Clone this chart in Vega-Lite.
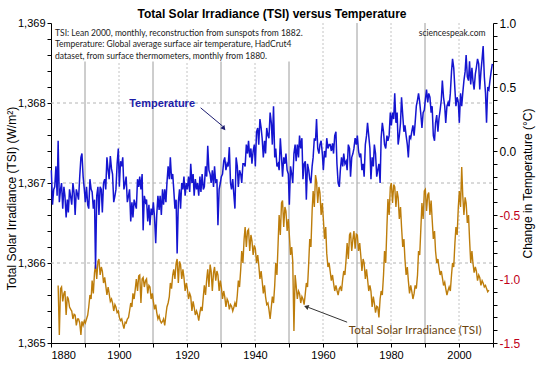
{
"$schema":"https://vega.github.io/schema/vega-lite/v6.json",
"width":442,"height":320,
"autosize":{"type":"none"},
"padding":{"left":51,"top":23,"right":47,"bottom":32},
"background":"white",
"config":{"view":{"stroke":null},"font":"Liberation Sans",
"axis":{"labelFont":"Liberation Sans","labelFontSize":11,"labelColor":"black","titleFont":"Liberation Sans","titleFontSize":12,"titleFontWeight":"normal","titleColor":"black","domainColor":"black","tickColor":"black","tickSize":4,"grid":false,"labelOverlap":false}},
"title":{"text":"Total Solar Irradiance (TSI) versus Temperature","font":"Liberation Sans Narrow, Liberation Sans","fontSize":12,"fontWeight":"bold","anchor":"middle","offset":-4,"color":"black"},
"datasets":{"series":[
{"year":1880.1,"temp":-0.15},{"year":1880.45,"temp":-0.42},{"year":1880.8,"temp":-0.30},
{"year":1881.1,"temp":-0.28},{"year":1881.45,"temp":-0.12},{"year":1881.8,"temp":-0.35},
{"year":1882.1,"temp":0.08,"tsi":1365.72},{"year":1882.45,"temp":-0.40,"tsi":1365.10},{"year":1882.8,"temp":-0.30,"tsi":1365.68},
{"year":1883.1,"temp":-0.25,"tsi":1365.70},{"year":1883.45,"temp":-0.45,"tsi":1365.52},{"year":1883.8,"temp":-0.28,"tsi":1365.62},
{"year":1884.1,"temp":-0.35,"tsi":1365.65},{"year":1884.45,"temp":-0.52,"tsi":1365.35},{"year":1884.8,"temp":-0.38,"tsi":1365.58},
{"year":1885.1,"temp":-0.48,"tsi":1365.55},{"year":1885.45,"temp":-0.30,"tsi":1365.45},{"year":1885.8,"temp":-0.36,"tsi":1365.42},
{"year":1886.1,"temp":-0.42,"tsi":1365.40},{"year":1886.45,"temp":-0.25,"tsi":1365.30},{"year":1886.8,"temp":-0.33,"tsi":1365.36},
{"year":1887.1,"temp":-0.50,"tsi":1365.35},{"year":1887.45,"temp":-0.30,"tsi":1365.22},{"year":1887.8,"temp":-0.34,"tsi":1365.30},
{"year":1888.1,"temp":-0.38,"tsi":1365.30},{"year":1888.45,"temp":-0.20,"tsi":1365.25},{"year":1888.8,"temp":-0.05,"tsi":1365.10},
{"year":1889.1,"temp":-0.02,"tsi":1365.27},{"year":1889.45,"temp":-0.20,"tsi":1365.22},{"year":1889.8,"temp":-0.30,"tsi":1365.28},
{"year":1890.1,"temp":-0.40,"tsi":1365.25},{"year":1890.45,"temp":-0.28,"tsi":1365.30},{"year":1890.8,"temp":-0.42,"tsi":1365.35},
{"year":1891.1,"temp":-0.45,"tsi":1365.45},{"year":1891.45,"temp":-0.22,"tsi":1365.60},{"year":1891.8,"temp":-0.30,"tsi":1365.55},
{"year":1892.1,"temp":-0.32,"tsi":1365.78},{"year":1892.45,"temp":-0.45,"tsi":1365.62},{"year":1892.8,"temp":-0.38,"tsi":1365.88},
{"year":1893.1,"temp":-0.92,"tsi":1365.98},{"year":1893.45,"temp":-0.35,"tsi":1365.80},{"year":1893.8,"temp":-0.28,"tsi":1366.02},
{"year":1894.1,"temp":-0.50,"tsi":1366.05},{"year":1894.45,"temp":-0.28,"tsi":1365.85},{"year":1894.8,"temp":-0.30,"tsi":1365.95},
{"year":1895.1,"temp":-0.48,"tsi":1365.90},{"year":1895.45,"temp":-0.25,"tsi":1365.75},{"year":1895.8,"temp":-0.22,"tsi":1365.82},
{"year":1896.1,"temp":-0.30,"tsi":1365.72},{"year":1896.45,"temp":-0.05,"tsi":1365.60},{"year":1896.8,"temp":-0.15,"tsi":1365.70},
{"year":1897.1,"temp":-0.22,"tsi":1365.62},{"year":1897.45,"temp":-0.04,"tsi":1365.52},{"year":1897.8,"temp":-0.14,"tsi":1365.55},
{"year":1898.1,"temp":-0.18,"tsi":1365.50},{"year":1898.45,"temp":-0.40,"tsi":1365.40},{"year":1898.8,"temp":-0.35,"tsi":1365.48},
{"year":1899.1,"temp":-0.30,"tsi":1365.45},{"year":1899.45,"temp":-0.10,"tsi":1365.38},{"year":1899.8,"temp":0.02,"tsi":1365.40},
{"year":1900.1,"temp":-0.28,"tsi":1365.32},{"year":1900.45,"temp":-0.08,"tsi":1365.28},{"year":1900.8,"temp":-0.12,"tsi":1365.30},
{"year":1901.1,"temp":-0.05,"tsi":1365.24},{"year":1901.45,"temp":-0.30,"tsi":1365.18},{"year":1901.8,"temp":-0.25,"tsi":1365.26},
{"year":1902.1,"temp":-0.20,"tsi":1365.25},{"year":1902.45,"temp":-0.40,"tsi":1365.30},{"year":1902.8,"temp":-0.35,"tsi":1365.32},
{"year":1903.1,"temp":-0.30,"tsi":1365.40},{"year":1903.45,"temp":-0.55,"tsi":1365.50},{"year":1903.8,"temp":-0.40,"tsi":1365.45},
{"year":1904.1,"temp":-0.52,"tsi":1365.62},{"year":1904.45,"temp":-0.38,"tsi":1365.55},{"year":1904.8,"temp":-0.42,"tsi":1365.68},
{"year":1905.1,"temp":-0.45,"tsi":1365.80},{"year":1905.45,"temp":-0.22,"tsi":1365.65},{"year":1905.8,"temp":-0.28,"tsi":1365.84},
{"year":1906.1,"temp":-0.20,"tsi":1365.85},{"year":1906.45,"temp":-0.30,"tsi":1365.50},{"year":1906.8,"temp":-0.18,"tsi":1365.80},
{"year":1907.1,"temp":-0.62,"tsi":1365.82},{"year":1907.45,"temp":-0.35,"tsi":1365.70},{"year":1907.8,"temp":-0.40,"tsi":1365.78},
{"year":1908.1,"temp":-0.38,"tsi":1365.80},{"year":1908.45,"temp":-0.55,"tsi":1365.62},{"year":1908.8,"temp":-0.42,"tsi":1365.72},
{"year":1909.1,"temp":-0.58,"tsi":1365.70},{"year":1909.45,"temp":-0.45,"tsi":1365.55},{"year":1909.8,"temp":-0.50,"tsi":1365.62},
{"year":1910.1,"temp":-0.40,"tsi":1365.52},{"year":1910.45,"temp":-0.52,"tsi":1365.42},{"year":1910.8,"temp":-0.72,"tsi":1365.48},
{"year":1911.1,"temp":-0.50,"tsi":1365.38},{"year":1911.45,"temp":-0.35,"tsi":1365.30},{"year":1911.8,"temp":-0.46,"tsi":1365.34},
{"year":1912.1,"temp":-0.35,"tsi":1365.28},{"year":1912.45,"temp":-0.50,"tsi":1365.25},{"year":1912.8,"temp":-0.30,"tsi":1365.27},
{"year":1913.1,"temp":-0.42,"tsi":1365.30},{"year":1913.45,"temp":-0.30,"tsi":1365.22},{"year":1913.8,"temp":-0.40,"tsi":1365.35},
{"year":1914.1,"temp":-0.25,"tsi":1365.45},{"year":1914.45,"temp":-0.12,"tsi":1365.50},{"year":1914.8,"temp":-0.22,"tsi":1365.58},
{"year":1915.1,"temp":-0.05,"tsi":1365.75},{"year":1915.45,"temp":-0.22,"tsi":1365.68},{"year":1915.8,"temp":-0.18,"tsi":1365.85},
{"year":1916.1,"temp":-0.30,"tsi":1365.92},{"year":1916.45,"temp":-0.45,"tsi":1365.80},{"year":1916.8,"temp":-0.38,"tsi":1366.00},
{"year":1917.1,"temp":-0.80,"tsi":1366.05},{"year":1917.45,"temp":-0.40,"tsi":1365.75},{"year":1917.8,"temp":-0.30,"tsi":1366.02},
{"year":1918.1,"temp":-0.45,"tsi":1365.98},{"year":1918.45,"temp":-0.25,"tsi":1365.80},{"year":1918.8,"temp":-0.30,"tsi":1365.92},
{"year":1919.1,"temp":-0.20,"tsi":1365.82},{"year":1919.45,"temp":-0.35,"tsi":1365.65},{"year":1919.8,"temp":-0.25,"tsi":1365.75},
{"year":1920.1,"temp":-0.30,"tsi":1365.68},{"year":1920.45,"temp":-0.20,"tsi":1365.55},{"year":1920.8,"temp":-0.32,"tsi":1365.62},
{"year":1921.1,"temp":-0.10,"tsi":1365.58},{"year":1921.45,"temp":-0.25,"tsi":1365.40},{"year":1921.8,"temp":-0.18,"tsi":1365.52},
{"year":1922.1,"temp":-0.35,"tsi":1365.45},{"year":1922.45,"temp":-0.22,"tsi":1365.35},{"year":1922.8,"temp":-0.30,"tsi":1365.40},
{"year":1923.1,"temp":-0.25,"tsi":1365.36},{"year":1923.45,"temp":-0.35,"tsi":1365.28},{"year":1923.8,"temp":-0.20,"tsi":1365.38},
{"year":1924.1,"temp":-0.32,"tsi":1365.45},{"year":1924.45,"temp":-0.18,"tsi":1365.40},{"year":1924.8,"temp":-0.30,"tsi":1365.58},
{"year":1925.1,"temp":-0.28,"tsi":1365.72},{"year":1925.45,"temp":-0.12,"tsi":1365.60},{"year":1925.8,"temp":-0.20,"tsi":1365.80},
{"year":1926.1,"temp":0.04,"tsi":1365.92},{"year":1926.45,"temp":-0.15,"tsi":1365.70},{"year":1926.8,"temp":-0.18,"tsi":1365.98},
{"year":1927.1,"temp":-0.25,"tsi":1365.90},{"year":1927.45,"temp":-0.15,"tsi":1365.65},{"year":1927.8,"temp":-0.28,"tsi":1365.88},
{"year":1928.1,"temp":-0.12,"tsi":1365.95},{"year":1928.45,"temp":-0.25,"tsi":1365.78},{"year":1928.8,"temp":-0.22,"tsi":1365.90},
{"year":1929.1,"temp":-0.58,"tsi":1365.85},{"year":1929.45,"temp":-0.30,"tsi":1365.65},{"year":1929.8,"temp":-0.25,"tsi":1365.78},
{"year":1930.1,"temp":-0.20,"tsi":1365.70},{"year":1930.45,"temp":-0.18,"tsi":1365.55},{"year":1930.8,"temp":-0.08,"tsi":1365.65},
{"year":1931.1,"temp":-0.05,"tsi":1365.58},{"year":1931.45,"temp":-0.15,"tsi":1365.45},{"year":1931.8,"temp":-0.10,"tsi":1365.55},
{"year":1932.1,"temp":-0.12,"tsi":1365.52},{"year":1932.45,"temp":0.03,"tsi":1365.42},{"year":1932.8,"temp":-0.25,"tsi":1365.48},
{"year":1933.1,"temp":-0.30,"tsi":1365.46},{"year":1933.45,"temp":-0.22,"tsi":1365.40},{"year":1933.8,"temp":-0.35,"tsi":1365.45},
{"year":1934.1,"temp":-0.45,"tsi":1365.50},{"year":1934.45,"temp":-0.05,"tsi":1365.45},{"year":1934.8,"temp":-0.12,"tsi":1365.60},
{"year":1935.1,"temp":-0.28,"tsi":1365.78},{"year":1935.45,"temp":-0.15,"tsi":1365.70},{"year":1935.8,"temp":-0.18,"tsi":1365.92},
{"year":1936.1,"temp":-0.25,"tsi":1366.15},{"year":1936.45,"temp":-0.10,"tsi":1366.00},{"year":1936.8,"temp":-0.10,"tsi":1366.30},
{"year":1937.1,"temp":-0.12,"tsi":1366.45},{"year":1937.45,"temp":0.05,"tsi":1366.20},{"year":1937.8,"temp":-0.02,"tsi":1366.40},
{"year":1938.1,"temp":0.08,"tsi":1366.42},{"year":1938.45,"temp":-0.05,"tsi":1366.15},{"year":1938.8,"temp":0.02,"tsi":1366.35},
{"year":1939.1,"temp":-0.10,"tsi":1366.28},{"year":1939.45,"temp":0.00,"tsi":1366.10},{"year":1939.8,"temp":0.05,"tsi":1366.22},
{"year":1940.1,"temp":-0.12,"tsi":1366.18},{"year":1940.45,"temp":0.15,"tsi":1366.00},{"year":1940.8,"temp":0.18,"tsi":1366.10},
{"year":1941.1,"temp":0.05,"tsi":1365.98},{"year":1941.45,"temp":0.25,"tsi":1365.80},{"year":1941.8,"temp":0.18,"tsi":1365.90},
{"year":1942.1,"temp":0.10,"tsi":1365.78},{"year":1942.45,"temp":-0.05,"tsi":1365.62},{"year":1942.8,"temp":0.08,"tsi":1365.72},
{"year":1943.1,"temp":-0.02,"tsi":1365.58},{"year":1943.45,"temp":0.18,"tsi":1365.48},{"year":1943.8,"temp":0.12,"tsi":1365.50},
{"year":1944.1,"temp":0.10,"tsi":1365.42},{"year":1944.45,"temp":0.30,"tsi":1365.30},{"year":1944.8,"temp":0.22,"tsi":1365.45},
{"year":1945.1,"temp":0.05,"tsi":1365.58},{"year":1945.45,"temp":0.35,"tsi":1365.50},{"year":1945.8,"temp":-0.05,"tsi":1365.72},
{"year":1946.1,"temp":0.02,"tsi":1366.00},{"year":1946.45,"temp":-0.12,"tsi":1365.85},{"year":1946.8,"temp":-0.10,"tsi":1366.25},
{"year":1947.1,"temp":-0.15,"tsi":1366.60},{"year":1947.45,"temp":0.10,"tsi":1366.35},{"year":1947.8,"temp":-0.05,"tsi":1366.75},
{"year":1948.1,"temp":-0.20,"tsi":1366.78},{"year":1948.45,"temp":-0.05,"tsi":1366.45},{"year":1948.8,"temp":-0.10,"tsi":1366.70},
{"year":1949.1,"temp":-0.02,"tsi":1366.65},{"year":1949.45,"temp":-0.15,"tsi":1366.40},{"year":1949.8,"temp":-0.18,"tsi":1366.55},
{"year":1950.1,"temp":-0.42,"tsi":1366.35},{"year":1950.45,"temp":-0.12,"tsi":1366.10},{"year":1950.8,"temp":-0.18,"tsi":1366.20},
{"year":1951.1,"temp":-0.25,"tsi":1366.02},{"year":1951.45,"temp":-0.02,"tsi":1365.15},{"year":1951.8,"temp":0.05,"tsi":1365.85},
{"year":1952.1,"temp":-0.08,"tsi":1365.72},{"year":1952.45,"temp":0.05,"tsi":1365.55},{"year":1952.8,"temp":-0.05,"tsi":1365.65},
{"year":1953.1,"temp":0.12,"tsi":1365.62},{"year":1953.45,"temp":0.02,"tsi":1365.50},{"year":1953.8,"temp":0.10,"tsi":1365.58},
{"year":1954.1,"temp":-0.22,"tsi":1365.55},{"year":1954.45,"temp":-0.10,"tsi":1365.48},{"year":1954.8,"temp":-0.08,"tsi":1365.62},
{"year":1955.1,"temp":-0.38,"tsi":1365.75},{"year":1955.45,"temp":-0.10,"tsi":1365.70},{"year":1955.8,"temp":-0.15,"tsi":1366.00},
{"year":1956.1,"temp":-0.22,"tsi":1366.30},{"year":1956.45,"temp":-0.25,"tsi":1366.20},{"year":1956.8,"temp":-0.12,"tsi":1366.65},
{"year":1957.1,"temp":-0.05,"tsi":1366.90},{"year":1957.45,"temp":0.10,"tsi":1366.70},{"year":1957.8,"temp":0.08,"tsi":1367.10},
{"year":1958.1,"temp":0.25,"tsi":1367.02},{"year":1958.45,"temp":0.02,"tsi":1366.75},{"year":1958.8,"temp":-0.02,"tsi":1366.95},
{"year":1959.1,"temp":0.05,"tsi":1366.88},{"year":1959.45,"temp":0.08,"tsi":1366.60},{"year":1959.8,"temp":-0.02,"tsi":1366.75},
{"year":1960.1,"temp":-0.15,"tsi":1366.55},{"year":1960.45,"temp":0.00,"tsi":1366.30},{"year":1960.8,"temp":-0.05,"tsi":1366.45},
{"year":1961.1,"temp":0.10,"tsi":1366.12},{"year":1961.45,"temp":0.02,"tsi":1365.95},{"year":1961.8,"temp":0.05,"tsi":1366.00},
{"year":1962.1,"temp":0.05,"tsi":1365.90},{"year":1962.45,"temp":0.00,"tsi":1365.78},{"year":1962.8,"temp":0.06,"tsi":1365.85},
{"year":1963.1,"temp":-0.02,"tsi":1365.75},{"year":1963.45,"temp":0.12,"tsi":1365.65},{"year":1963.8,"temp":0.15,"tsi":1365.72},
{"year":1964.1,"temp":-0.10,"tsi":1365.66},{"year":1964.45,"temp":-0.25,"tsi":1365.60},{"year":1964.8,"temp":-0.28,"tsi":1365.68},
{"year":1965.1,"temp":-0.15,"tsi":1365.70},{"year":1965.45,"temp":-0.05,"tsi":1365.65},{"year":1965.8,"temp":-0.12,"tsi":1365.80},
{"year":1966.1,"temp":-0.02,"tsi":1365.90},{"year":1966.45,"temp":-0.10,"tsi":1365.85},{"year":1966.8,"temp":-0.08,"tsi":1366.05},
{"year":1967.1,"temp":-0.15,"tsi":1366.25},{"year":1967.45,"temp":0.05,"tsi":1366.05},{"year":1967.8,"temp":0.02,"tsi":1366.35},
{"year":1968.1,"temp":-0.20,"tsi":1366.38},{"year":1968.45,"temp":-0.05,"tsi":1366.15},{"year":1968.8,"temp":-0.02,"tsi":1366.30},
{"year":1969.1,"temp":0.02,"tsi":1366.40},{"year":1969.45,"temp":0.10,"tsi":1366.18},{"year":1969.8,"temp":0.05,"tsi":1366.36},
{"year":1970.1,"temp":0.12,"tsi":1366.35},{"year":1970.45,"temp":0.00,"tsi":1366.15},{"year":1970.8,"temp":-0.05,"tsi":1366.25},
{"year":1971.1,"temp":-0.02,"tsi":1366.10},{"year":1971.45,"temp":-0.15,"tsi":1365.90},{"year":1971.8,"temp":-0.10,"tsi":1366.05},
{"year":1972.1,"temp":-0.20,"tsi":1366.00},{"year":1972.45,"temp":0.05,"tsi":1365.80},{"year":1972.8,"temp":0.12,"tsi":1365.92},
{"year":1973.1,"temp":0.22,"tsi":1365.80},{"year":1973.45,"temp":0.12,"tsi":1365.65},{"year":1973.8,"temp":0.02,"tsi":1365.72},
{"year":1974.1,"temp":-0.22,"tsi":1365.65},{"year":1974.45,"temp":-0.05,"tsi":1365.45},{"year":1974.8,"temp":-0.12,"tsi":1365.58},
{"year":1975.1,"temp":0.05,"tsi":1365.50},{"year":1975.45,"temp":-0.02,"tsi":1365.38},{"year":1975.8,"temp":-0.20,"tsi":1365.46},
{"year":1976.1,"temp":-0.15,"tsi":1365.45},{"year":1976.45,"temp":-0.10,"tsi":1365.32},{"year":1976.8,"temp":-0.25,"tsi":1365.55},
{"year":1977.1,"temp":0.10,"tsi":1365.65},{"year":1977.45,"temp":0.22,"tsi":1365.60},{"year":1977.8,"temp":0.15,"tsi":1365.85},
{"year":1978.1,"temp":0.05,"tsi":1366.15},{"year":1978.45,"temp":0.02,"tsi":1366.00},{"year":1978.8,"temp":0.12,"tsi":1366.45},
{"year":1979.1,"temp":0.08,"tsi":1366.80},{"year":1979.45,"temp":0.12,"tsi":1366.60},{"year":1979.8,"temp":0.30,"tsi":1366.95},
{"year":1980.1,"temp":0.20,"tsi":1367.00},{"year":1980.45,"temp":0.30,"tsi":1366.75},{"year":1980.8,"temp":0.25,"tsi":1366.98},
{"year":1981.1,"temp":0.45,"tsi":1366.95},{"year":1981.45,"temp":0.22,"tsi":1366.70},{"year":1981.8,"temp":0.30,"tsi":1366.90},
{"year":1982.1,"temp":0.05,"tsi":1366.82},{"year":1982.45,"temp":0.12,"tsi":1366.55},{"year":1982.8,"temp":0.22,"tsi":1366.70},
{"year":1983.1,"temp":0.42,"tsi":1366.45},{"year":1983.45,"temp":0.28,"tsi":1366.20},{"year":1983.8,"temp":0.15,"tsi":1366.30},
{"year":1984.1,"temp":0.20,"tsi":1366.05},{"year":1984.45,"temp":0.12,"tsi":1365.85},{"year":1984.8,"temp":0.05,"tsi":1365.95},
{"year":1985.1,"temp":-0.05,"tsi":1365.78},{"year":1985.45,"temp":0.12,"tsi":1365.62},{"year":1985.8,"temp":0.10,"tsi":1365.72},
{"year":1986.1,"temp":0.15,"tsi":1365.65},{"year":1986.45,"temp":0.20,"tsi":1365.55},{"year":1986.8,"temp":0.12,"tsi":1365.62},
{"year":1987.1,"temp":0.22,"tsi":1365.72},{"year":1987.45,"temp":0.35,"tsi":1365.68},{"year":1987.8,"temp":0.40,"tsi":1365.85},
{"year":1988.1,"temp":0.45,"tsi":1366.15},{"year":1988.45,"temp":0.38,"tsi":1366.10},{"year":1988.8,"temp":0.28,"tsi":1366.45},
{"year":1989.1,"temp":0.18,"tsi":1366.75},{"year":1989.45,"temp":0.30,"tsi":1366.55},{"year":1989.8,"temp":0.32,"tsi":1366.90},
{"year":1990.1,"temp":0.40,"tsi":1366.92},{"year":1990.45,"temp":0.48,"tsi":1366.65},{"year":1990.8,"temp":0.38,"tsi":1366.85},
{"year":1991.1,"temp":0.45,"tsi":1366.88},{"year":1991.45,"temp":0.42,"tsi":1366.60},{"year":1991.8,"temp":0.30,"tsi":1366.78},
{"year":1992.1,"temp":0.35,"tsi":1366.55},{"year":1992.45,"temp":0.12,"tsi":1366.30},{"year":1992.8,"temp":0.08,"tsi":1366.40},
{"year":1993.1,"temp":0.22,"tsi":1366.15},{"year":1993.45,"temp":0.28,"tsi":1366.00},{"year":1993.8,"temp":0.15,"tsi":1366.05},
{"year":1994.1,"temp":0.25,"tsi":1365.95},{"year":1994.45,"temp":0.32,"tsi":1365.85},{"year":1994.8,"temp":0.40,"tsi":1365.90},
{"year":1995.1,"temp":0.55,"tsi":1365.82},{"year":1995.45,"temp":0.42,"tsi":1365.72},{"year":1995.8,"temp":0.35,"tsi":1365.76},
{"year":1996.1,"temp":0.22,"tsi":1365.68},{"year":1996.45,"temp":0.35,"tsi":1365.60},{"year":1996.8,"temp":0.38,"tsi":1365.66},
{"year":1997.1,"temp":0.35,"tsi":1365.70},{"year":1997.45,"temp":0.45,"tsi":1365.65},{"year":1997.8,"temp":0.62,"tsi":1365.85},
{"year":1998.1,"temp":0.72,"tsi":1366.00},{"year":1998.45,"temp":0.65,"tsi":1365.95},{"year":1998.8,"temp":0.48,"tsi":1366.25},
{"year":1999.1,"temp":0.35,"tsi":1366.45},{"year":1999.45,"temp":0.42,"tsi":1366.35},{"year":1999.8,"temp":0.38,"tsi":1366.70},
{"year":2000.1,"temp":0.22,"tsi":1366.90},{"year":2000.45,"temp":0.45,"tsi":1366.70},{"year":2000.8,"temp":0.35,"tsi":1367.20},
{"year":2001.1,"temp":0.45,"tsi":1366.85},{"year":2001.45,"temp":0.55,"tsi":1366.60},{"year":2001.8,"temp":0.62,"tsi":1366.82},
{"year":2002.1,"temp":0.75,"tsi":1366.75},{"year":2002.45,"temp":0.58,"tsi":1366.50},{"year":2002.8,"temp":0.55,"tsi":1366.60},
{"year":2003.1,"temp":0.70,"tsi":1366.30},{"year":2003.45,"temp":0.52,"tsi":1366.00},{"year":2003.8,"temp":0.65,"tsi":1366.15},
{"year":2004.1,"temp":0.55,"tsi":1366.00},{"year":2004.45,"temp":0.48,"tsi":1365.88},{"year":2004.8,"temp":0.60,"tsi":1365.95},
{"year":2005.1,"temp":0.65,"tsi":1365.90},{"year":2005.45,"temp":0.72,"tsi":1365.78},{"year":2005.8,"temp":0.68,"tsi":1365.85},
{"year":2006.1,"temp":0.48,"tsi":1365.82},{"year":2006.45,"temp":0.62,"tsi":1365.72},{"year":2006.8,"temp":0.72,"tsi":1365.78},
{"year":2007.1,"temp":0.82,"tsi":1365.75},{"year":2007.45,"temp":0.58,"tsi":1365.70},{"year":2007.8,"temp":0.45,"tsi":1365.72},
{"year":2008.1,"temp":0.22,"tsi":1365.68},{"year":2008.45,"temp":0.50,"tsi":1365.64},{"year":2008.8,"temp":0.48,"tsi":1365.66},
{"year":2009.1,"temp":0.55},{"year":2009.45,"temp":0.62},{"year":2009.8,"temp":0.68}
],
"decades":[{"year":1890},{"year":1900},{"year":1910},{"year":1920},{"year":1930},{"year":1940},{"year":1950},{"year":1960},{"year":1970},{"year":1980},{"year":1990},{"year":2000}]
},
"encoding":{"x":{"field":"year","type":"quantitative","scale":{"domain":[1880,2010],"nice":false,"zero":false},
  "axis":{"title":null,"values":[1880,1890,1900,1910,1920,1930,1940,1950,1960,1970,1980,1990,2000,2010],
   "labelExpr":"datum.value % 20 == 0 ? '' + datum.value : ''","labelPadding":2}}},
"layer":[
{"data":{"name":"decades"},
 "transform":[{"filter":"datum.year % 20 == 0"}],
 "mark":{"type":"rule","color":"#c4c4c4","strokeWidth":1,"strokeDash":[2,2]}},
{"data":{"name":"decades"},
 "transform":[{"filter":"datum.year % 20 == 10"}],
 "mark":{"type":"rule","color":"#9c9c9c","strokeWidth":1}},
{"encoding":{"y":{"field":"tsi","type":"quantitative","scale":{"domain":[1365,1369],"nice":false,"zero":false},
   "axis":{"title":"Total Solar Irradiance (TSI) (W/m²)","values":[1365,1365.2,1365.4,1365.6,1365.8,1366,1366.2,1366.4,1366.6,1366.8,1367,1367.2,1367.4,1367.6,1367.8,1368,1368.2,1368.4,1368.6,1368.8,1369],
    "labelExpr":"abs(datum.value - round(datum.value)) < 0.01 ? format(datum.value, ',') : ''","labelOverlap":false,
    "titleX":-40,"titleY":175,"titleAngle":270,"titleBaseline":"middle","titleAlign":"center"}}},
 "layer":[
{"data":{"values":[{"tsi":1366,"year":1880,"year2":2010},{"tsi":1367,"year":1880,"year2":2010},{"tsi":1368,"year":1880,"year2":2010}]},
 "mark":{"type":"rule","color":"#b4b4b4","strokeWidth":1,"strokeDash":[3,3]},
 "encoding":{"x2":{"field":"year2"}}},
{"data":{"name":"series"},
 "mark":{"type":"line","color":"#bd7d0b","strokeWidth":1.4}},
{"data":{"values":[{"year":1880.35,"year2":1954,"tsi":1368.52,"tsi2":1369}]},
 "mark":{"type":"rect","color":"white"},
 "encoding":{"x2":{"field":"year2"},"y2":{"field":"tsi2"}}},
{"data":{"values":[
  {"label":"TSI: Lean 2000, monthly, reconstruction from sunspots from 1882.","year":1881.2,"tsi":1368.875},
  {"label":"Temperature: Global average surface air temperature, HadCrut4","year":1881.2,"tsi":1368.735},
  {"label":"dataset, from surface thermometers, monthly from 1880.","year":1881.2,"tsi":1368.59}]},
 "mark":{"type":"text","align":"left","baseline":"middle","font":"Lato","fontSize":8.5,"color":"#222222"},
 "encoding":{"text":{"field":"label"}}},
{"data":{"values":[{"label":"sciencespeak.com","year":2007.8,"tsi":1368.875}]},
 "mark":{"type":"text","align":"right","baseline":"middle","font":"Lato","fontSize":8.5,"color":"#222222"},
 "encoding":{"text":{"field":"label"}}},
{"data":{"values":[{"label":"Temperature","year":1903.0,"tsi":1367.99}]},
 "mark":{"type":"text","align":"left","baseline":"middle","font":"Liberation Sans","fontSize":11,"fontWeight":"bold","color":"#1c1ca8"},
 "encoding":{"text":{"field":"label"}}},
{"data":{"values":[{"year":1924.0,"year2":1930.5,"tsi":1367.94,"tsi2":1367.71}]},
 "mark":{"type":"rule","color":"#1c1c70","strokeWidth":1},
 "encoding":{"x2":{"field":"year2"},"y2":{"field":"tsi2"}}},
{"data":{"values":[{"year":1930.7,"tsi":1367.69}]},
 "mark":{"type":"point","shape":"triangle","angle":140,"size":28,"filled":true,"color":"#1c1c70","opacity":1}},
{"data":{"values":[{"label":"Total Solar Irradiance (TSI)","year":1967.6,"tsi":1365.16}]},
 "mark":{"type":"text","align":"left","baseline":"middle","font":"Lato","fontSize":11.7,"color":"#6b4510"},
 "encoding":{"text":{"field":"label"}}},
{"data":{"values":[{"year":1967.1,"year2":1955.7,"tsi":1365.26,"tsi2":1365.445}]},
 "mark":{"type":"rule","color":"#333333","strokeWidth":1},
 "encoding":{"x2":{"field":"year2"},"y2":{"field":"tsi2"}}},
{"data":{"values":[{"year":1955.3,"tsi":1365.45}]},
 "mark":{"type":"point","shape":"triangle","angle":290,"size":28,"filled":true,"color":"#333333","opacity":1}}
]},
{"data":{"name":"series"},
 "mark":{"type":"line","color":"#1515d0","strokeWidth":1.5},
 "encoding":{
  "y":{"field":"temp","type":"quantitative","scale":{"domain":[-1.5,1.0],"nice":false,"zero":false},
   "axis":{"orient":"right","title":"Change in Temperature (°C)",
    "values":[-1.5,-1.4,-1.3,-1.2,-1.1,-1.0,-0.9,-0.8,-0.7,-0.6,-0.5,-0.4,-0.3,-0.2,-0.1,0,0.1,0.2,0.3,0.4,0.5,0.6,0.7,0.8,0.9,1.0],
    "labelExpr":"abs(datum.value*2 - round(datum.value*2)) < 0.01 ? (datum.value < -0.01 ? '-' : '') + format(abs(datum.value), '.1f') : ''",
    "labelColor":{"condition":{"test":"datum.value < -0.01","value":"#c00018"},"value":"black"},
    "labelFontSize":12,"labelOverlap":false,
    "titleX":34,"titleY":160,"titleAngle":270,"titleBaseline":"middle","titleAlign":"center"}}}}
],
"resolve":{"scale":{"y":"independent"}}
}
